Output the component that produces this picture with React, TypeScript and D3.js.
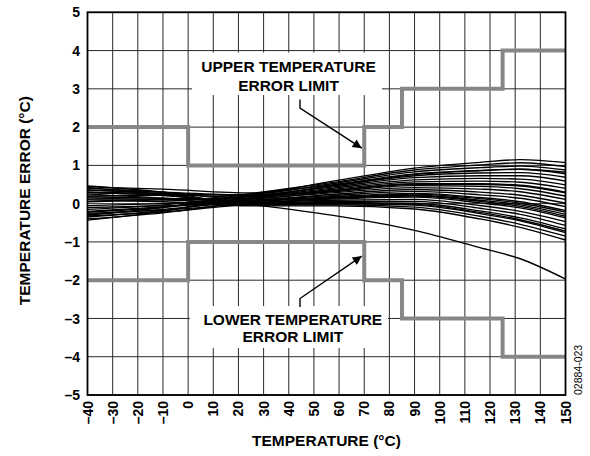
import React from "react";
import * as d3 from "d3";

const W = 590;
const H = 456;

// Curve sample temperatures (°C)
const CURVE_T = [-40, -10, 25, 57, 90, 116, 132, 150];
// Individual device error curves (°C error at CURVE_T)
const unit01 = [0.44, 0.38, 0.28, 0.58, 0.93, 1.08, 1.15, 1.07];
const unit02 = [-0.30, -0.10, 0.26, 0.55, 0.88, 1.01, 1.07, 0.97];
const unit03 = [0.20, 0.22, 0.25, 0.52, 0.83, 0.94, 0.98, 0.88];
const unit04 = [-0.43, -0.20, 0.23, 0.49, 0.78, 0.87, 0.90, 0.78];
const unit05 = [0.35, 0.30, 0.22, 0.46, 0.73, 0.80, 0.81, 0.69];
const unit06 = [-0.15, -0.03, 0.20, 0.43, 0.68, 0.73, 0.73, 0.59];
const unit07 = [0.05, 0.10, 0.18, 0.40, 0.62, 0.66, 0.64, 0.49];
const unit08 = [0.28, 0.24, 0.17, 0.37, 0.57, 0.59, 0.56, 0.40];
const unit09 = [-0.35, -0.18, 0.15, 0.34, 0.52, 0.52, 0.48, 0.30];
const unit10 = [0.12, 0.12, 0.13, 0.31, 0.47, 0.45, 0.39, 0.20];
const unit11 = [-0.22, -0.10, 0.12, 0.28, 0.42, 0.38, 0.31, 0.11];
const unit12 = [0.40, 0.30, 0.10, 0.24, 0.37, 0.30, 0.22, 0.01];
const unit13 = [-0.05, 0.00, 0.09, 0.21, 0.32, 0.23, 0.14, -0.08];
const unit14 = [0.18, 0.14, 0.07, 0.18, 0.27, 0.16, 0.05, -0.18];
const unit15 = [-0.40, -0.24, 0.05, 0.15, 0.22, 0.09, -0.03, -0.28];
const unit16 = [0.30, 0.21, 0.04, 0.12, 0.17, 0.02, -0.11, -0.37];
const unit17 = [-0.10, -0.06, 0.02, 0.09, 0.11, -0.05, -0.20, -0.47];
const unit18 = [0.46, 0.30, 0.00, 0.06, 0.06, -0.12, -0.28, -0.57];
const unit19 = [-0.25, -0.17, -0.01, 0.03, 0.01, -0.19, -0.37, -0.66];
const unit20 = [0.10, 0.05, -0.03, 0.00, -0.04, -0.26, -0.45, -0.76];
const unit21 = [-0.32, -0.22, -0.04, -0.03, -0.09, -0.33, -0.54, -0.85];
const unit22 = [0.25, 0.14, -0.06, -0.06, -0.14, -0.40, -0.62, -0.95];
const unit23 = [0.30, 0.27, 0.21, 0.47, 0.76, 0.86, 0.90, 0.82];
const unit24 = [-0.20, -0.08, 0.14, 0.33, 0.50, 0.50, 0.46, 0.28];
const unit25 = [0.15, 0.10, 0.03, 0.14, 0.20, 0.06, -0.07, -0.33];
const unit26 = [-0.28, -0.15, 0.06, 0.16, 0.25, 0.13, 0.01, -0.22];
const unit27 = [0.36, 0.24, -0.02, 0.01, -0.02, -0.23, -0.42, -0.72];
const unit28 = [0.42, 0.25, -0.02, -0.30, -0.70, -1.15, -1.44, -1.97];
const CURVES = [
  unit01, unit02, unit03, unit04, unit05, unit06, unit07, unit08,
  unit09, unit10, unit11, unit12, unit13, unit14, unit15, unit16,
  unit17, unit18, unit19, unit20, unit21, unit22, unit23, unit24,
  unit25, unit26, unit27, unit28,
];

// Error limit step lines
const LIMIT_T = [-40, 0, 0, 70, 70, 85, 85, 125, 125, 150];
const UPPER_LIMIT = [2, 2, 1, 1, 2, 2, 3, 3, 4, 4];
const LOWER_LIMIT = [-2, -2, -1, -1, -2, -2, -3, -3, -4, -4];

const X_TICKS = [-40, -30, -20, -10, 0, 10, 20, 30, 40, 50, 60, 70, 80, 90, 100, 110, 120, 130, 140, 150];
const Y_TICKS = [-5, -4, -3, -2, -1, 0, 1, 2, 3, 4, 5];

const X_TITLE = "TEMPERATURE (°C)";
const Y_TITLE = "TEMPERATURE ERROR (°C)";
const UPPER_LABEL = ["UPPER TEMPERATURE", "ERROR LIMIT"];
const LOWER_LABEL = ["LOWER TEMPERATURE", "ERROR LIMIT"];
const CODE = "02884-023";

const FONT = "'Liberation Sans', Arial, Helvetica, sans-serif";
const fmt = (v: number) => (v < 0 ? "\u2013" + Math.abs(v) : String(v));

export default function App() {
  const left = 87.5, right = 565.5, top = 12.3, bottom = 395;
  const x = d3.scaleLinear().domain([-40, 150]).range([left, right]);
  const y = d3.scaleLinear().domain([-5, 5]).range([bottom, top]);

  const curve = d3
    .line<number>()
    .x((_, i) => x(CURVE_T[i]))
    .y((d) => y(d))
    .curve(d3.curveMonotoneX);
  const step = d3
    .line<number>()
    .x((_, i) => x(LIMIT_T[i]))
    .y((d) => y(d));

  const gridColor = "#2a2a2a";
  const limitColor = "#878787";

  return (
    <svg
      width={W}
      height={H}
      style={{ position: "absolute", left: 0, top: 0, background: "#fff" }}
      fontFamily={FONT}
    >
      <defs>
        <marker id="ah" viewBox="0 0 10 10" refX="10" refY="5" markerWidth="13" markerHeight="9" markerUnits="userSpaceOnUse" orient="auto">
          <path d="M0,0 L10,5 L0,10 z" fill="#000" />
        </marker>
      </defs>
      <rect x={0} y={0} width={W} height={H} fill="#fff" />

      {/* grid */}
      {X_TICKS.map((t) => (
        <line key={"gx" + t} x1={x(t)} x2={x(t)} y1={top} y2={bottom} stroke={gridColor} strokeWidth={1} />
      ))}
      {Y_TICKS.map((t) => (
        <line key={"gy" + t} x1={left} x2={right} y1={y(t)} y2={y(t)} stroke={gridColor} strokeWidth={1} />
      ))}

      {/* label knockout boxes */}
      <rect x={192} y={52.5} width={190} height={42.5} fill="#fff" />
      <rect x={190} y={306} width={198} height={42} fill="#fff" />

      {/* device curves */}
      {CURVES.map((c, i) => (
        <path key={"c" + i} d={curve(c) || ""} fill="none" stroke="#000" strokeWidth={1.35} />
      ))}

      {/* limits */}
      <path d={step(UPPER_LIMIT) || ""} fill="none" stroke={limitColor} strokeWidth={4} />
      <path d={step(LOWER_LIMIT) || ""} fill="none" stroke={limitColor} strokeWidth={4} />

      {/* frame */}
      <rect x={left} y={top} width={right - left} height={bottom - top} fill="none" stroke="#000" strokeWidth={1.8} />

      {/* y tick labels */}
      {Y_TICKS.map((t) => (
        <text key={"ly" + t} x={80} y={y(t)} dy="0.36em" textAnchor="end" fontSize={14} fontWeight="bold" fill="#000">
          {fmt(t)}
        </text>
      ))}
      {/* x tick labels */}
      {X_TICKS.map((t) => (
        <text
          key={"lx" + t}
          transform={`translate(${x(t)},${401}) rotate(-90)`}
          dy="0.36em"
          textAnchor="end"
          fontSize={14}
          fontWeight="bold"
          fill="#000"
        >
          {fmt(t)}
        </text>
      ))}

      {/* axis titles */}
      <text x={(left + right) / 2} y={446} textAnchor="middle" fontSize={15.5} fontWeight="bold" fill="#000">
        {X_TITLE}
      </text>
      <text transform={`translate(29.5,${(top + bottom) / 2 - 3}) rotate(-90)`} textAnchor="middle" fontSize={15.5} fontWeight="bold" fill="#000">
        {Y_TITLE}
      </text>

      {/* annotations */}
      <text x={288.5} y={71.7} textAnchor="middle" fontSize={15.5} fontWeight="bold" fill="#000">{UPPER_LABEL[0]}</text>
      <text x={288.5} y={90.7} textAnchor="middle" fontSize={15.5} fontWeight="bold" fill="#000">{UPPER_LABEL[1]}</text>
      <polyline points={`300,99.5 300,108 ${x(70) - 2.5},${y(1.45)}`} fill="none" stroke="#000" strokeWidth={1.4} markerEnd="url(#ah)" />

      <text x={292.8} y={325} textAnchor="middle" fontSize={15.5} fontWeight="bold" fill="#000">{LOWER_LABEL[0]}</text>
      <text x={292.8} y={341.7} textAnchor="middle" fontSize={15.5} fontWeight="bold" fill="#000">{LOWER_LABEL[1]}</text>
      <polyline points={`300,307 300,298.5 ${x(70) - 2.5},${y(-1.37)}`} fill="none" stroke="#000" strokeWidth={1.4} markerEnd="url(#ah)" />

      {/* figure code */}
      <text transform={`translate(581.5,${bottom}) rotate(-90)`} textAnchor="start" fontSize={10.5} fill="#000">
        {CODE}
      </text>
    </svg>
  );
}
